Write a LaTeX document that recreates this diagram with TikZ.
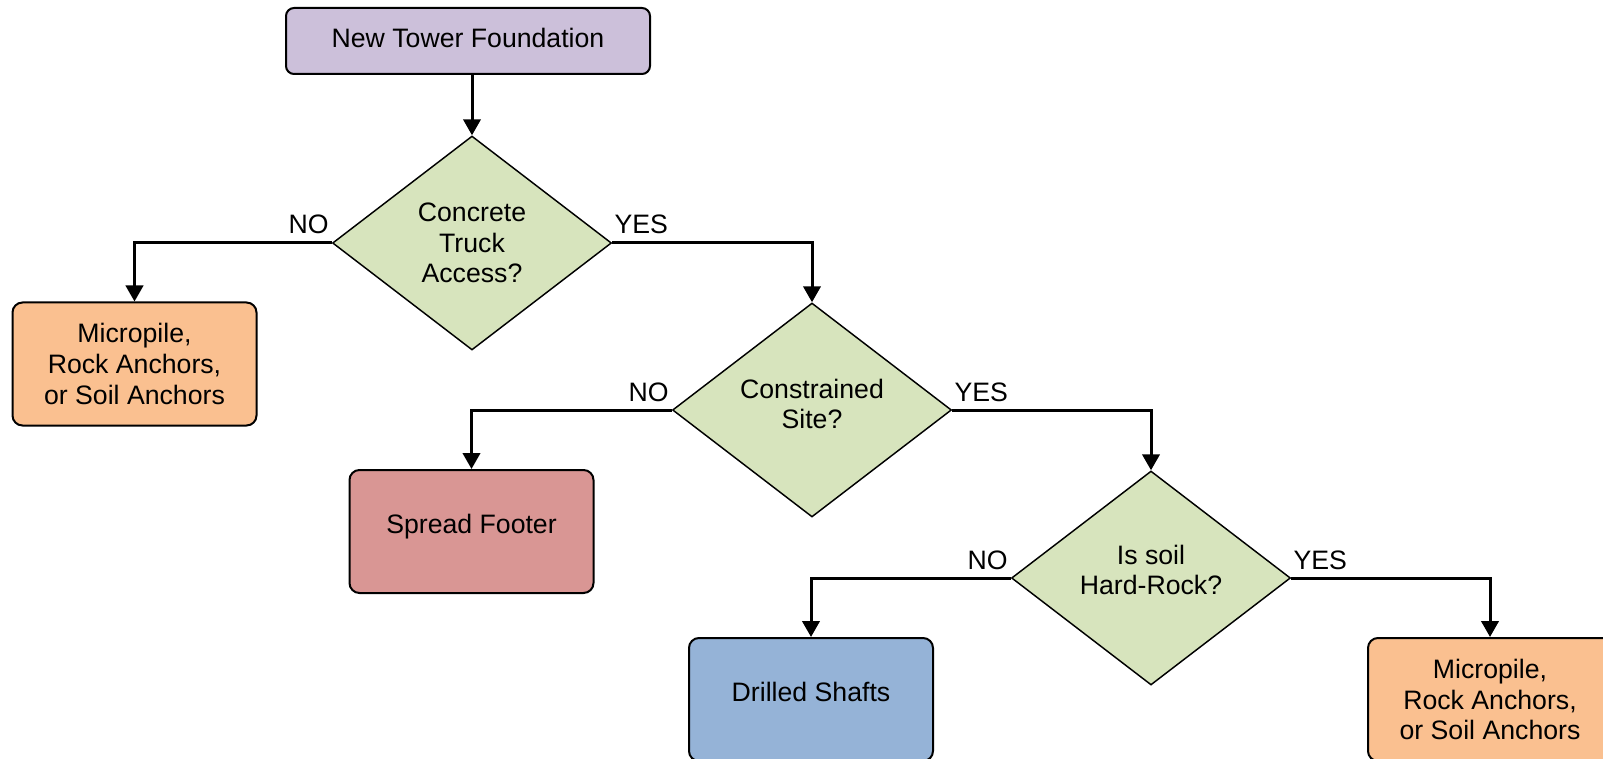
\documentclass[tikz,border=0pt]{standalone}
\usepackage{fontspec}
\setmainfont{Liberation Sans}
\usetikzlibrary{arrows.meta,shapes.geometric}
\definecolor{cpurple}{RGB}{204,192,218}
\definecolor{cgreen}{RGB}{215,228,189}
\definecolor{corange}{RGB}{250,192,144}
\definecolor{cred}{RGB}{217,150,148}
\definecolor{cblue}{RGB}{149,179,215}
\newcommand{\lifttext}[2]{\raisebox{#1}[\height][\depth]{#2}}
\begin{document}
\begin{tikzpicture}[x=0.75pt,y=-0.75pt,
  every node/.style={font=\fontsize{20pt}{23pt}\selectfont},
  box/.style={draw=black, line width=1.5pt, rounded corners=7.5pt, minimum width=183pt, minimum height=92.25pt, align=center, inner sep=0pt},
  dia/.style={diamond, draw=black, line width=1.1pt, fill=cgreen, minimum width=209.25pt, minimum height=160.5pt, aspect=1.3, align=center, inner sep=0pt},
  arr/.style={line width=2.25pt, -{Triangle[width=13pt,length=12pt]}},
  lbl/.style={inner sep=0pt}
]
\useasboundingbox (0,0) rectangle (1603,759);
\clip (0,0) rectangle (1603,759);

\node[box, fill=cpurple, minimum width=273pt, minimum height=49.5pt, rounded corners=6pt] (start) at (468,41) {\lifttext{2.25pt}{New Tower Foundation}};
\node[dia] (d1) at (472,243) {Concrete\\Truck\\Access?};
\node[dia, label={[name=t2, align=center, yshift=4.5pt]center:{Constrained\\Site?}}] (d2) at (812,410) {};
\node[dia, label={[name=t3, align=center, yshift=6pt]center:{Is soil\\Hard-Rock?}}] (d3) at (1151,578) {};
\node[box, fill=corange] (b1) at (134.5,364) {Micropile,\\Rock Anchors,\\or Soil Anchors};
\node[box, fill=cred] (b2) at (471.5,531.5) {\lifttext{3.75pt}{Spread Footer}};
\node[box, fill=cblue] (b3) at (811,699.5) {\lifttext{6pt}{Drilled Shafts}};
\node[box, fill=corange] (b4) at (1490,699.5) {Micropile,\\Rock Anchors,\\or Soil Anchors};

\draw[arr] (d1.north |- start.south) -- (d1.north);
\draw[arr] (d1.west) -| (b1.north);
\draw[arr] (d1.east) -| (d2.north);
\draw[arr] (d2.west) -| (b2.north);
\draw[arr] (d2.east) -| (d3.north);
\draw[arr] (d3.west) -| (b3.north);
\draw[arr] (d3.east) -| (b4.north);

\node[lbl, anchor=base east] (no1) at ([xshift=-2.25pt,yshift=6.75pt]d1.west) {NO};
\node[lbl, anchor=base west] (yes1) at ([xshift=1.5pt,yshift=6.75pt]d1.east) {YES};
\node[lbl, anchor=base east] (no2) at ([xshift=-2.25pt,yshift=6.75pt]d2.west) {NO};
\node[lbl, anchor=base west] (yes2) at ([xshift=1.5pt,yshift=6.75pt]d2.east) {YES};
\node[lbl, anchor=base east] (no3) at ([xshift=-2.25pt,yshift=6.75pt]d3.west) {NO};
\node[lbl, anchor=base west] (yes3) at ([xshift=1.5pt,yshift=6.75pt]d3.east) {YES};
\end{tikzpicture}
\end{document}
